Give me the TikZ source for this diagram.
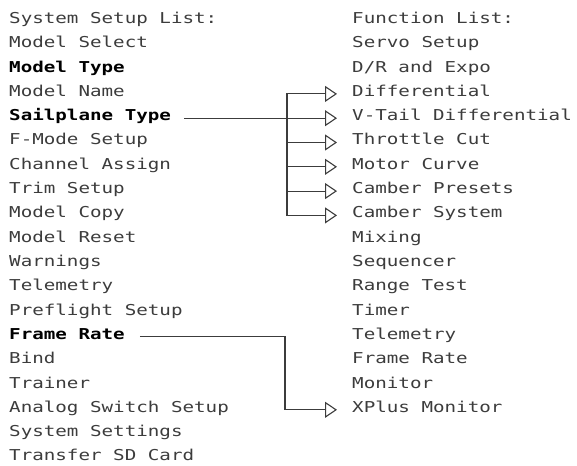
\documentclass[tikz,border=0pt]{standalone}
\usepackage{fontspec}
\newfontfamily\spekfont[FakeStretch=1.28]{DejaVu Sans Mono}
\usetikzlibrary{arrows.meta}

\definecolor{menugray}{RGB}{60,60,60}
\tikzset{
  item/.style={anchor=west, inner sep=0pt, text height=11pt, text depth=6pt,
    font=\spekfont\fontsize{15}{15}\selectfont, text=menugray},
  pick/.style={item, font=\spekfont\bfseries\fontsize{15}{15}\selectfont, text=black},
  trunk/.style={draw=menugray, line width=1.1pt},
  feed/.style={trunk, -{Triangle[open, length=12pt, width=16pt]}}
}

\begin{document}
\begin{tikzpicture}[x=1pt, y=-1pt]

    \useasboundingbox (0,0) rectangle (577,465);

    % system setup list
    \node[item] (syshead) at (9,21.0) {System Setup List:};
    \node[item] (select) at (9,45.3) {Model Select};
    \node[pick] (mtype) at (9,69.6) {Model Type};
    \node[item] (mname) at (9,93.9) {Model Name};
    \node[pick] (sail) at (9,118.2) {Sailplane Type};
    \node[item] (fmode) at (9,142.5) {F-Mode Setup};
    \node[item] (assign) at (9,166.8) {Channel Assign};
    \node[item] (trim) at (9,191.1) {Trim Setup};
    \node[item] (copy) at (9,215.4) {Model Copy};
    \node[item] (reset) at (9,239.7) {Model Reset};
    \node[item] (warn) at (9,264.0) {Warnings};
    \node[item] (telesys) at (9,288.3) {Telemetry};
    \node[item] (preflight) at (9,312.6) {Preflight Setup};
    \node[pick] (rate) at (9,336.9) {Frame Rate};
    \node[item] (bind) at (9,361.2) {Bind};
    \node[item] (trainer) at (9,385.5) {Trainer};
    \node[item] (analog) at (9,409.8) {Analog Switch Setup};
    \node[item] (settings) at (9,434.1) {System Settings};
    \node[item] (transfer) at (9,458.4) {Transfer SD Card};

    % function list
    \node[item] (funchead) at (352,21.0) {Function List:};
    \node[item] (servo) at (352,45.3) {Servo Setup};
    \node[item] (drexpo) at (352,69.6) {D/R and Expo};
    \node[item] (diff) at (352,93.9) {Differential};
    \node[item] (vtail) at (352,118.2) {V-Tail Differential};
    \node[item] (cut) at (352,142.5) {Throttle Cut};
    \node[item] (motor) at (352,166.8) {Motor Curve};
    \node[item] (campre) at (352,191.1) {Camber Presets};
    \node[item] (camsys) at (352,215.4) {Camber System};
    \node[item] (mixing) at (352,239.7) {Mixing};
    \node[item] (seq) at (352,264.0) {Sequencer};
    \node[item] (range) at (352,288.3) {Range Test};
    \node[item] (timer) at (352,312.6) {Timer};
    \node[item] (telefun) at (352,336.9) {Telemetry};
    \node[item] (ratefun) at (352,361.2) {Frame Rate};
    \node[item] (monitor) at (352,385.5) {Monitor};
    \node[item] (xplus) at (352,409.8) {XPlus Monitor};

    % sailplane type
    \coordinate (bus1) at (287,0);
    \draw[trunk] ([xshift=13pt]sail.east) -- (bus1 |- sail.east);
    \draw[feed] (bus1 |- sail.east) |- ([xshift=-15pt]diff.west);
    \draw[feed] (bus1 |- sail.east) |- ([xshift=-15pt]vtail.west);
    \draw[feed] (bus1 |- sail.east) |- ([xshift=-15pt]cut.west);
    \draw[feed] (bus1 |- sail.east) |- ([xshift=-15pt]motor.west);
    \draw[feed] (bus1 |- sail.east) |- ([xshift=-15pt]campre.west);
    \draw[feed] (bus1 |- sail.east) |- ([xshift=-15pt]camsys.west);

    % frame rate
    \coordinate (bus2) at (285,0);
    \draw[feed] ([xshift=15pt]rate.east) -- (bus2 |- rate.east) |- ([xshift=-15pt]xplus.west);

\end{tikzpicture}
\end{document}
